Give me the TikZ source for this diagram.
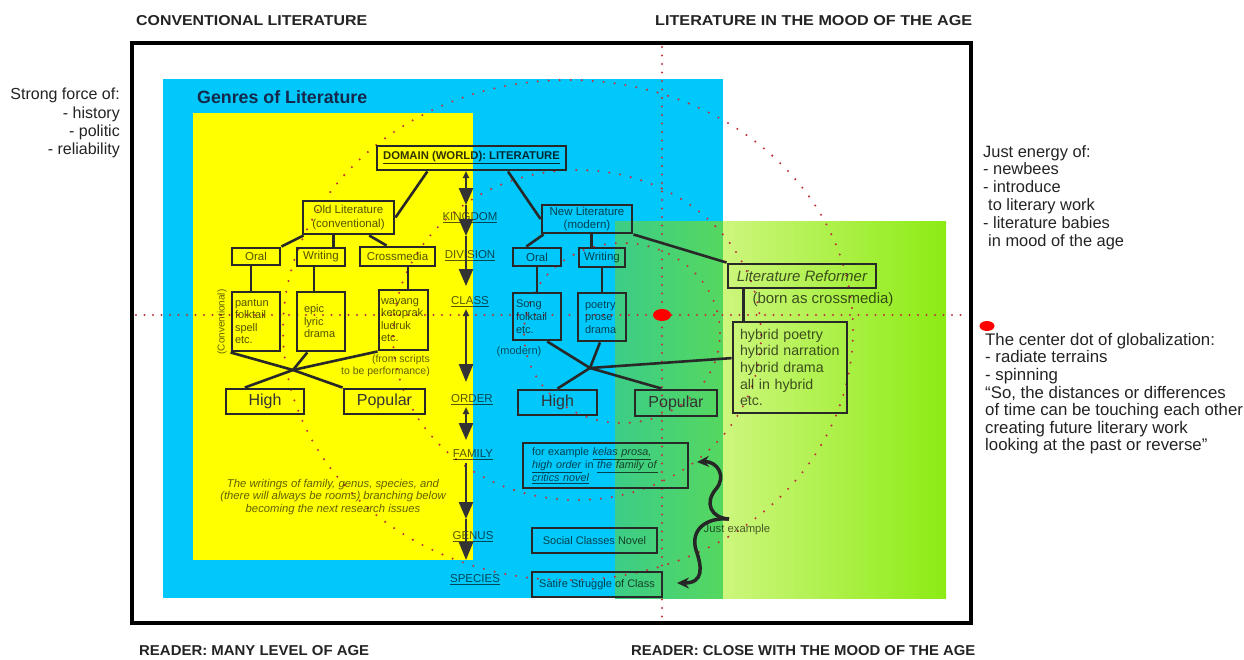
\documentclass[tikz,border=0pt]{standalone}
\usepackage{fontspec}
\setmainfont{Liberation Sans}
\usetikzlibrary{arrows.meta,calc,shapes.geometric}
\newcommand{\fsz}[2]{\fontsize{#1}{#2}\selectfont}
\definecolor{cyanbg}{RGB}{0,200,250}
\definecolor{yelbg}{RGB}{255,255,0}
\definecolor{dotred}{RGB}{190,50,60}
\definecolor{boxline}{RGB}{40,40,40}
\definecolor{navy}{RGB}{20,40,75}
\definecolor{labgray}{RGB}{35,35,35}
\definecolor{gA}{RGB}{60,205,135}
\definecolor{gB}{RGB}{85,215,95}
\definecolor{gC}{RGB}{205,246,125}
\definecolor{gD}{RGB}{140,235,20}
\begin{document}
\begin{tikzpicture}[x=1pt,y=-1pt,
  box/.style={draw=boxline, line width=2.9pt, inner sep=0pt, text=black, text opacity=0.68},
  conn/.style={draw=boxline, line width=2.6pt},
  col/.style={draw=black!80, line width=2.5pt},
  curl/.style={draw=black!85, line width=3.5pt},
  rank/.style={inner sep=0pt, text=black, text opacity=0.65, font=\fsz{11.5}{13}},
  smalltxt/.style={inner sep=0pt, text=black, text opacity=0.62},
  bigtxt/.style={inner sep=0pt, text=labgray},
  dotc/.style={draw=dotred, line width=2.3pt, line cap=round, dash pattern=on 0pt off 11pt},
  dotl/.style={draw=dotred, line width=2.3pt, line cap=round, dash pattern=on 0pt off 8.5pt},
  hl/.style={box, text=black!80, text opacity=1, font=\fsz{16}{18}}]
\useasboundingbox (0,0) rectangle (1244,659);
% backgrounds
\fill[cyanbg] (163,79) rectangle (723,598);
\fill[yelbg] (193,113) rectangle (473,560);
\shade[left color=gA, right color=gB] (615,221) rectangle (723,598);
\shade[left color=gC, right color=gD] (723,221) rectangle (946,598);
% dotted circles and axes
\draw[dotc] (568,330) ellipse [x radius=285pt, y radius=250pt];
\draw[dotc] (577,335) ellipse [x radius=184pt, y radius=165pt];
\draw[dotc] (622,333) ellipse [x radius=98pt, y radius=90pt];
\draw[dotl] (136,315) -- (966,315);
\draw[dotl] (662,47) -- (662,622);
% frame
\draw[line width=3.5pt, black] (132,43) rectangle (971,623);
% headings
\node[bigtxt, anchor=base west] (tl) at (136,25) {\resizebox{231pt}{10pt}{\bfseries CONVENTIONAL LITERATURE}};
\node[bigtxt, anchor=base west] (tr) at (655,25) {\resizebox{317pt}{10pt}{\bfseries LITERATURE IN THE MOOD OF THE AGE}};
\node[bigtxt, anchor=base west] (bl) at (139,655) {\resizebox{230pt}{10pt}{\bfseries READER: MANY LEVEL OF AGE}};
\node[bigtxt, anchor=base west] (br) at (631,655) {\resizebox{344pt}{10pt}{\bfseries READER: CLOSE WITH THE MOOD OF THE AGE}};
\node[anchor=west, font=\bfseries\fsz{17.8}{20}, text=navy, inner sep=0pt] (genres) at (197,97) {Genres of Literature};
% side texts
\node[bigtxt, anchor=north east, align=right, font=\fsz{16}{18.3}] (strong) at (120,88) {Strong force of:\\- history\\- politic\\- reliability};
\node[bigtxt, anchor=north west, align=left, font=\fsz{16.4}{17.8}] (energy) at (983,145) {Just energy of:\\- newbees\\- introduce\\\hspace*{5pt}to literary work\\- literature babies\\\hspace*{5pt}in mood of the age};
\node[bigtxt, anchor=north west, align=left, font=\fsz{16.8}{17.6}] (glob) at (985,333) {The center dot of globalization:\\- radiate terrains\\- spinning\\“So, the distances or differences\\of time can be touching each other\\creating future literary work\\looking at the past or reverse”};
% rank labels
\node[rank] (kin) at (470,218) {\underline{KINGDOM}};
\node[rank] (div) at (470,256) {\underline{DIVISION}};
\node[rank] (cla) at (470,302) {\underline{CLASS}};
\node[rank] (ord) at (472,400) {\underline{ORDER}};
\node[rank] (fam) at (473,455) {\underline{FAMILY}};
\node[rank] (gen) at (473,537) {\underline{GENUS}};
\node[rank] (spe) at (475,580) {\underline{SPECIES}};
% column arrows
\coordinate (c0) at (466,171);
\coordinate (c1) at (466,205);
\coordinate (c2) at (466,236);
\coordinate (c3) at (466,286);
\coordinate (c4) at (466,309);
\coordinate (c5) at (466,382);
\coordinate (c6) at (466,407);
\coordinate (c7) at (466,440);
\coordinate (c8) at (466,463);
\coordinate (c9) at (466,519);
\coordinate (c10) at (466,560);
\draw[col, {Triangle[width=6pt,length=7pt]}-{Triangle[width=14pt,length=17pt]}] (c0) -- (c1);
\draw[col, -{Triangle[width=14pt,length=17pt]}] (c1) -- (c2);
\draw[col, -{Triangle[width=14pt,length=17pt]}] (c2) -- (c3);
\draw[col, {Triangle[width=6pt,length=7pt]}-{Triangle[width=14pt,length=18pt]}] (c4) -- (c5);
\draw[col, {Triangle[width=6pt,length=7pt]}-{Triangle[width=14pt,length=17pt]}] (c6) -- (c7);
\draw[col, -{Triangle[width=14pt,length=17pt]}] (c8) -- (c9);
\draw[col, -{Triangle[width=14pt,length=18pt]}] (c9) -- (c10);
% boxes
\node[box, minimum width=189pt, minimum height=24pt, font=\bfseries\fsz{11.3}{13}, text opacity=0.8] (dom) at (471.5,158) {\underline{DOMAIN (WORLD): LITERATURE}};
\node[box, minimum width=91pt, minimum height=33pt, align=center, font=\fsz{11.5}{13.5}] (old) at (348.5,217.5) {Old Literature\\(conventional)};
\node[box, minimum width=90pt, minimum height=28pt, align=center, font=\fsz{11.5}{13.5}] (new) at (587,219) {New Literature\\(modern)};
\node[box, minimum width=48pt, minimum height=17pt, font=\fsz{11.5}{13}] (oralO) at (256,256.5) {Oral};
\node[box, minimum width=48pt, minimum height=18pt, font=\fsz{11.5}{13}] (writO) at (321,257) {Writing};
\node[box, minimum width=75pt, minimum height=19pt, font=\fsz{11.5}{13}] (cross) at (397.5,256.5) {Crossmedia};
\node[box, minimum width=48pt, minimum height=18pt, font=\fsz{11.5}{13}] (oralN) at (537,257) {Oral};
\node[box, minimum width=46pt, minimum height=19pt, font=\fsz{11.5}{13}] (writN) at (602,257.5) {Writing};
\node[box, minimum height=59pt, text width=42pt, inner xsep=3pt, align=left, font=\fsz{11}{12.5}] (pant) at (256,321.5) {pantun\\folktail\\spell\\etc.};
\node[box, minimum height=59pt, text width=34pt, inner xsep=7pt, align=left, font=\fsz{11}{12.5}] (epic) at (321,321.5) {epic\\lyric\\drama};
\node[box, minimum height=60pt, text width=45pt, inner xsep=2pt, align=left, font=\fsz{11}{12.5}] (way) at (403.5,320) {wayang\\ketoprak\\ludruk\\etc.};
\node[box, minimum height=47pt, text width=42pt, inner xsep=3pt, align=left, font=\fsz{11}{12.8}] (song) at (537,316.5) {Song\\folktail\\etc.};
\node[box, minimum height=48pt, text width=34pt, inner xsep=7pt, align=left, font=\fsz{11}{12.5}] (poet) at (602,317) {poetry\\prose\\drama};
\node[hl, minimum width=78pt, minimum height=25pt] (highO) at (265,401.5) {High};
\node[hl, minimum width=81pt, minimum height=25pt] (popO) at (384.5,401.5) {Popular};
\node[hl, minimum width=79pt, minimum height=25pt] (highN) at (557.5,402.5) {High};
\node[hl, minimum width=82pt, minimum height=26pt] (popN) at (676,403) {Popular};
\node[box, minimum width=148pt, minimum height=24pt, font=\itshape\fsz{15}{17}] (refm) at (802,276) {Literature Reformer};
\node[box, minimum height=91pt, text width=100pt, inner xsep=7pt, align=left, font=\fsz{14.2}{16.6}] (hyb) at (790,367.5) {hybrid poetry\\hybrid narration\\hybrid drama\\all in hybrid\\etc.};
\node[box, minimum height=45pt, text width=147pt, inner xsep=9pt, align=left, font=\fsz{10.8}{13.3}] (fex) at (605.5,465.5) {for example \underline{\textit{kelas prosa,}}\\\underline{\textit{high order}} in \underline{\textit{the family of}}\\\underline{\textit{critics novel}}};
\node[box, minimum width=125pt, minimum height=25pt, font=\fsz{11}{13}] (soc) at (594.5,540.5) {Social Classes Novel};
\node[box, minimum width=130pt, minimum height=25pt, font=\fsz{11}{13}] (sat) at (597,584.5) {Satire Struggle of Class};
% connectors
\draw[conn] ($(dom.south west)!0.27!(dom.south east)$) -- (old.east);
\draw[conn] ($(dom.south west)!0.69!(dom.south east)$) -- (new.west);
\draw[conn] ([xshift=2pt]old.south west) -- (oralO.north east);
\draw[conn] ($(old.south west)!0.34!(old.south east)$) coordinate (t1) -- (t1 |- writO.north);
\draw[conn] ($(old.south west)!0.72!(old.south east)$) -- ($(cross.north west)!0.36!(cross.north east)$);
\draw[conn] ([xshift=-5pt]oralO.south) -- ([xshift=-5pt]pant.north);
\draw[conn] ([xshift=-7pt]writO.south) -- ([xshift=-7pt]epic.north);
\draw[conn] ([xshift=4.5pt]way.north) coordinate (t2) -- (t2 |- cross.south);
\draw[conn] ([xshift=3pt]new.south west) -- ($(oralN.north west)!0.29!(oralN.north east)$);
\draw[conn] ($(new.south west)!0.55!(new.south east)$) coordinate (t3) -- (t3 |- writN.north);
\draw[conn] (new.south east) -- (refm.north west);
\draw[conn] (oralN.south) -- (song.north);
\draw[conn] (writN.south) -- (poet.north);
\draw[conn] ([xshift=12pt]hyb.north west) coordinate (t4) -- (t4 |- refm.south);
\coordinate (x1) at (293,370);
\coordinate (x2) at (590,368);
\draw[conn] (pant.south west) -- (x1) -- (popO.north west);
\draw[conn] ($(epic.south west)!0.23!(epic.south east)$) -- (x1) -- ($(highO.north west)!0.25!(highO.north east)$);
\draw[conn] (way.south west) -- (x1);
\draw[conn] ($(song.south west)!0.7!(song.south east)$) -- (x2) -- ($(popN.north west)!0.33!(popN.north east)$);
\draw[conn] ($(poet.south west)!0.46!(poet.south east)$) -- (x2) -- (highN.north);
\draw[conn] ($(hyb.north west)!0.4!(hyb.south west)$) -- (x2);
% free labels
\node[smalltxt, rotate=90, font=\fsz{10}{12}] (convl) at (222,322) {(Conventional)};
\node[smalltxt, font=\fsz{11}{12}] (modl) at (519,352) {(modern)};
\node[smalltxt, align=right, anchor=east, font=\fsz{10.5}{12}] (fromsc) at (430,366) {(from scripts\\to be performance)};
\node[smalltxt, align=center, font=\itshape\fsz{11.3}{12.7}] (para) at (333,497) {The writings of family, genus, species, and\\(there will always be rooms) branching below\\becoming the next research issues};
\node[smalltxt, font=\fsz{15}{17}, text opacity=0.68] (born) at (823,300) {(born as crossmedia)};
\node[smalltxt, font=\fsz{11.3}{13}] (just) at (737,530) {Just example};
% curly arrows
\coordinate (jx) at (729,519);
\coordinate (tipU) at (697,462);
\coordinate (tipL) at (677,583);
\draw[curl, -{Stealth[length=12pt,width=11pt]}] (jx) .. controls (711,518) and (704,503) .. (716,489) .. controls (727,476) and (717,461) .. (tipU);
\draw[curl, -{Stealth[length=12pt,width=11pt]}] (jx) .. controls (706,517) and (690,530) .. (696,550) .. controls (702,567) and (704,583) .. (tipL);
% red dots
\node[ellipse, fill=red, minimum width=18pt, minimum height=12pt, inner sep=0pt] (cdot) at (662,315) {};
\node[ellipse, fill=red, minimum width=15pt, minimum height=10pt, inner sep=0pt] (rdot) at (987,326) {};
\end{tikzpicture}
\end{document}
